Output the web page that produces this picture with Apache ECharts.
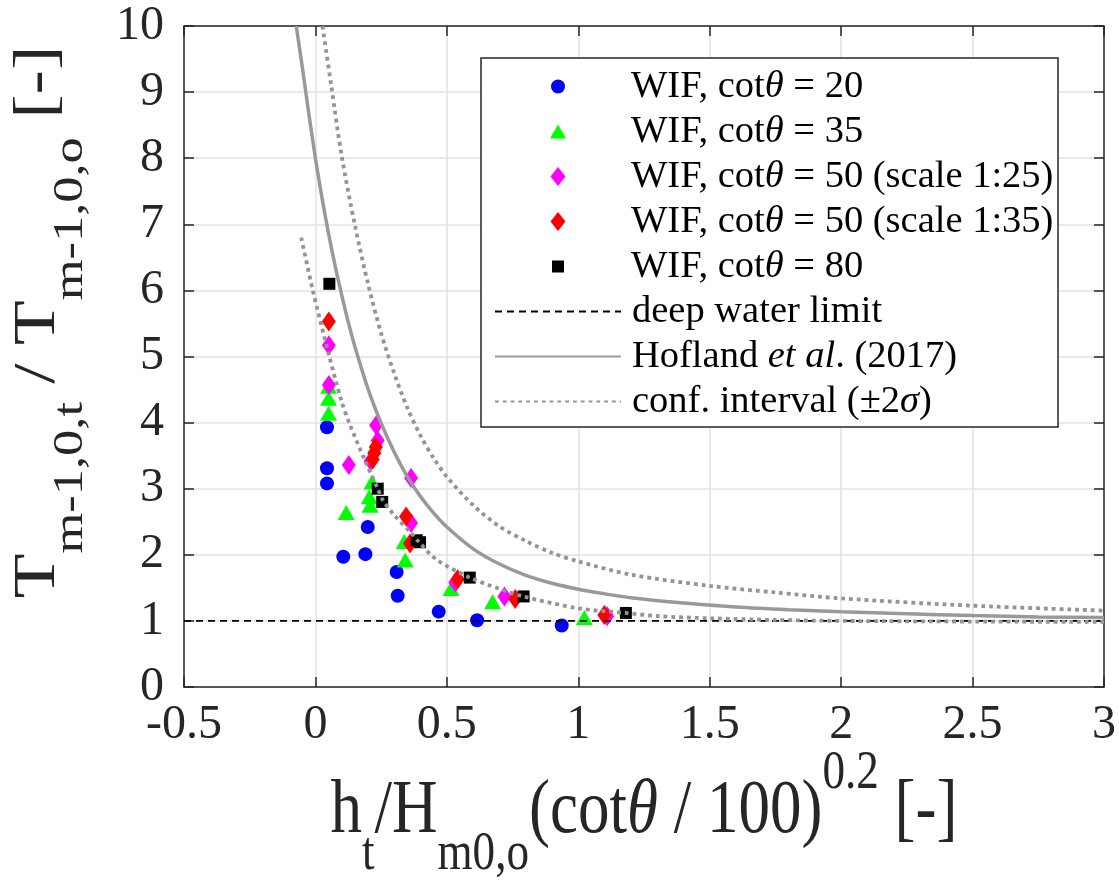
<!DOCTYPE html>
<html><head><meta charset="utf-8">
<script src="https://cdn.jsdelivr.net/npm/echarts@6/dist/echarts.min.js"></script>
<style>html,body{margin:0;padding:0;background:#fff}#c{width:1119px;height:884px}</style>
</head><body><div id="c"></div>
<script>
// ---- tick labels ----
const xTicks = [-0.5, 0, 0.5, 1, 1.5, 2, 2.5, 3];
const yTicks = [0, 1, 2, 3, 4, 5, 6, 7, 8, 9, 10];

// ---- legend names ----
const names = ['WIF, cotθ = 20', 'WIF, cotθ = 35', 'WIF, cotθ = 50 (scale 1:25)',
  'WIF, cotθ = 50 (scale 1:35)', 'WIF, cotθ = 80', 'deep water limit',
  'Hofland et al. (2017)', 'conf. interval (±2σ)'];

// ---- measured points ----
const c20X = [0.044, 0.044, 0.044, 0.106, 0.19, 0.199, 0.309, 0.313, 0.469, 0.615, 0.937];
const c20Y = [3.93, 3.31, 3.08, 1.97, 2.01, 2.42, 1.74, 1.38, 1.14, 1.01, 0.93];
const c35X = [0.05, 0.05, 0.05, 0.117, 0.215, 0.205, 0.208, 0.338, 0.342, 0.516, 0.674, 1.023];
const c35Y = [4.55, 4.37, 4.14, 2.64, 3.1, 2.88, 2.75, 2.2, 1.92, 1.49, 1.29, 1.05];
const c50aX = [0.051, 0.051, 0.127, 0.21, 0.231, 0.237, 0.364, 0.364, 0.532, 0.719, 1.11];
const c50aY = [5.17, 4.57, 3.36, 3.42, 3.96, 3.73, 3.16, 2.48, 1.58, 1.37, 1.07];
const c50bX = [0.051, 0.23, 0.224, 0.218, 0.345, 0.36, 0.541, 0.76, 1.099];
const c50bY = [5.53, 3.63, 3.54, 3.44, 2.58, 2.17, 1.63, 1.33, 1.09];
const c80X = [0.053, 0.237, 0.254, 0.385, 0.398, 0.587, 0.792, 1.181];
const c80Y = [6.1, 3.0, 2.8, 2.22, 2.19, 1.655, 1.37, 1.12];

// ---- deep water limit ----
const deepX = [-0.5, 3];
const deepY = [1, 1];

// ---- Hofland et al. (2017) curve ----
const hofX = [-0.073, -0.05, -0.025, 0, 0.025, 0.05, 0.075, 0.1, 0.125, 0.15, 0.2, 0.25, 0.3, 0.35, 0.4, 0.45, 0.5, 0.6, 0.7, 0.8, 0.9, 1.0, 1.1, 1.2, 1.4, 1.6, 1.8, 2.0, 2.25, 2.5, 2.75, 3.0];
const hofY = [10, 9.38, 8.67, 8.0, 7.4, 6.86, 6.37, 5.93, 5.52, 5.15, 4.51, 3.99, 3.55, 3.18, 2.88, 2.63, 2.42, 2.09, 1.86, 1.69, 1.57, 1.48, 1.41, 1.35, 1.27, 1.21, 1.17, 1.14, 1.11, 1.08, 1.06, 1.05];

// ---- confidence interval (upper / lower) ----
const upX = [0.027, 0.06, 0.1, 0.15, 0.2, 0.25, 0.3, 0.35, 0.4, 0.45, 0.5, 0.6, 0.7, 0.8, 0.9, 1.0, 1.2, 1.5, 1.75, 2.0, 2.5, 3.0];
const upY = [10, 9.1, 8.03, 6.99, 6.1, 5.35, 4.74, 4.22, 3.8, 3.46, 3.18, 2.75, 2.43, 2.21, 2.03, 1.9, 1.7, 1.53, 1.43, 1.34, 1.23, 1.156];
const loX = [-0.054, -0.01, 0.053, 0.098, 0.13, 0.186, 0.237, 0.256, 0.3, 0.364, 0.39, 0.46, 0.59, 0.725, 0.79, 1.0, 1.18, 1.31, 1.5, 1.75, 2.0, 2.5, 3.0];
const loY = [6.8, 6.0, 5.0, 4.34, 3.98, 3.45, 3.0, 2.83, 2.6, 2.33, 2.21, 1.93, 1.65, 1.45, 1.37, 1.19, 1.12, 1.07, 1.04, 1.015, 1.0, 0.99, 0.985];

const zip = (a, b) => a.map((v, i) => [v, b[i]]);
const FF = 'Liberation Serif';
const AX = '#262626';
const LFS = 38.5;

function legendFmt() {
  return function (name) {
    let t;
    if (name.indexOf('θ') >= 0) {
      const p = name.split('θ');
      t = '{f|' + p[0] + '}{i|θ}{n|' + p[1] + '}';
    } else if (name.indexOf('et al.') >= 0) {
      t = '{f|Hofland }{i|et al}{n|. (2017)}';
    } else if (name.indexOf('σ') >= 0) {
      const p = name.split('σ');
      t = '{f|' + p[0] + '}{i|σ}{n|' + p[1] + '}';
    } else {
      t = '{f|' + name + '}';
    }
    return t;
  };
}
function legendText(pad) {
  return {
    fontFamily: FF, fontSize: LFS, color: '#000', lineHeight: 45,
    rich: {
      f: {fontFamily: FF, fontSize: LFS, color: '#000', lineHeight: 45, padding: [0, 0, 0, pad]},
      n: {fontFamily: FF, fontSize: LFS, color: '#000', lineHeight: 45},
      i: {fontFamily: FF, fontSize: LFS, color: '#000', fontStyle: 'italic', lineHeight: 45}
    }
  };
}
const MX = 558;   // legend marker centre
const TX = 631;   // legend text start
function markerLegend(items, w, h, top) {
  const left = MX - w / 2;
  return {
    orient: 'vertical', left, top, padding: 0, itemGap: 0,
    itemWidth: w, itemHeight: h, selectedMode: false,
    data: items, formatter: legendFmt(), textStyle: legendText(TX - (left + w + 5)), z: 5
  };
}

const chart = echarts.init(document.getElementById('c'), null, {renderer: 'canvas'});

const scatterBase = (name, data, symbol, size, color) => ({
  name, type: 'scatter', data, symbol, symbolSize: size,
  itemStyle: {color, opacity: 1}, z: 2, silent: true
});

const axisCommon = {
  type: 'value',
  axisLine: {show: true, onZero: false, lineStyle: {color: AX, width: 1.5}},
  axisTick: {show: true, inside: true, length: 10, lineStyle: {color: AX, width: 1.5}}
};

const option = {
  animation: false,
  backgroundColor: '#ffffff',
  grid: {left: 184, right: 14, top: 26, bottom: 197, containLabel: false},
  xAxis: [Object.assign({}, axisCommon, {
    min: xTicks[0], max: xTicks[xTicks.length - 1], interval: 0.5,
    axisLabel: {fontFamily: FF, fontSize: 48, color: AX, margin: 14, formatter: v => String(v)},
    splitLine: {show: true, lineStyle: {color: '#e2e2e2', width: 1.5}}
  }), Object.assign({}, axisCommon, {
    position: 'top', min: xTicks[0], max: xTicks[xTicks.length - 1], interval: 0.5,
    axisLabel: {show: false}, splitLine: {show: false}
  })],
  yAxis: [Object.assign({}, axisCommon, {
    min: yTicks[0], max: yTicks[yTicks.length - 1], interval: 1,
    axisLabel: {fontFamily: FF, fontSize: 48, color: AX, margin: 20, formatter: v => String(v)},
    splitLine: {show: true, lineStyle: {color: '#e2e2e2', width: 1.5}}
  }), Object.assign({}, axisCommon, {
    position: 'right', min: yTicks[0], max: yTicks[yTicks.length - 1], interval: 1,
    axisLabel: {show: false}, splitLine: {show: false}
  })],
  legend: [
    markerLegend([names[0], names[1]], 16, 14, 64),
    markerLegend([names[2], names[3]], 15, 19, 154),
    markerLegend([names[4]], 12, 12, 244),
    {
      orient: 'vertical', left: 494, top: 289, padding: 0, itemGap: 0,
      itemWidth: 126, itemHeight: 14, selectedMode: false,
      data: [names[5], names[6], names[7]], formatter: legendFmt(),
      textStyle: legendText(TX - (494 + 126 + 5)),
      itemStyle: {color: 'rgba(0,0,0,0)', borderWidth: 0, borderColor: 'rgba(0,0,0,0)'},
      z: 5
    }
  ],
  graphic: [
    {type: 'rect', z: 3, shape: {x: 481, y: 58, width: 577, height: 369},
      style: {fill: '#ffffff', stroke: AX, lineWidth: 1.5}, silent: true},
    {type: 'text', x: 644, y: 812, scaleX: 1.05, scaleY: 1.28, z: 3, silent: true,
      style: {
        text: '{m|h}{s|t}{m|/H}{s|m0,o}{m|(cot}{mi|θ}{m| / 100)}{p|0.2}{m| [-]}',
        align: 'center', verticalAlign: 'middle',
        rich: {
          m: {fontFamily: FF, fontSize: 60, fill: '#262626'},
          mi: {fontFamily: FF, fontSize: 60, fill: '#262626', fontStyle: 'italic'},
          s: {fontFamily: FF, fontSize: 43, fill: '#262626', padding: [66, 0, 0, 0]},
          p: {fontFamily: FF, fontSize: 43, fill: '#262626', padding: [0, 0, 60, 0]}
        }
      }},
    {type: 'text', x: 38, y: 322, rotation: Math.PI / 2, scaleX: 1.22, z: 3, silent: true,
      style: {
        text: '{m|T}{s|m-1,0,t}{m| / T}{s|m-1,0,o}{m| [-]}',
        align: 'center', verticalAlign: 'middle',
        rich: {
          m: {fontFamily: FF, fontSize: 60, fill: '#262626'},
          s: {fontFamily: FF, fontSize: 43, fill: '#262626', padding: [66, 0, 0, 0]}
        }
      }}
  ],
  series: [
    scatterBase(names[0], zip(c20X, c20Y), 'circle', 14, '#0000ff'),
    scatterBase(names[1], zip(c35X, c35Y), 'triangle', [17, 15], '#00ff00'),
    scatterBase(names[2], zip(c50aX, c50aY), 'diamond', [14, 20], '#ff00ff'),
    scatterBase(names[3], zip(c50bX, c50bY), 'diamond', [14, 20], '#ff0000'),
    scatterBase(names[4], zip(c80X, c80Y), 'rect', 12, '#000000'),
    {name: names[5], type: 'line', data: zip(deepX, deepY), symbol: 'none', z: 3, silent: true,
      lineStyle: {color: '#000', width: 1.8, type: [7, 5]}, itemStyle: {color: '#000'}},
    {name: names[6], type: 'line', data: zip(hofX, hofY), symbol: 'none', smooth: 0.3, z: 3, silent: true, clip: true,
      lineStyle: {color: '#999999', width: 3.5}, itemStyle: {color: '#999999'}},
    {name: names[7], type: 'line', data: zip(upX, upY), symbol: 'none', smooth: 0.3, z: 3, silent: true, clip: true,
      lineStyle: {color: '#949494', width: 3.8, type: [3.8, 4]}, itemStyle: {color: '#949494'}},
    {name: names[7], type: 'line', data: zip(loX, loY), symbol: 'none', smooth: 0.3, z: 3, silent: true, clip: true,
      lineStyle: {color: '#949494', width: 3.8, type: [3.8, 4]}, itemStyle: {color: '#949494'}}
  ]
};
chart.setOption(option);
</script>
</body></html>
